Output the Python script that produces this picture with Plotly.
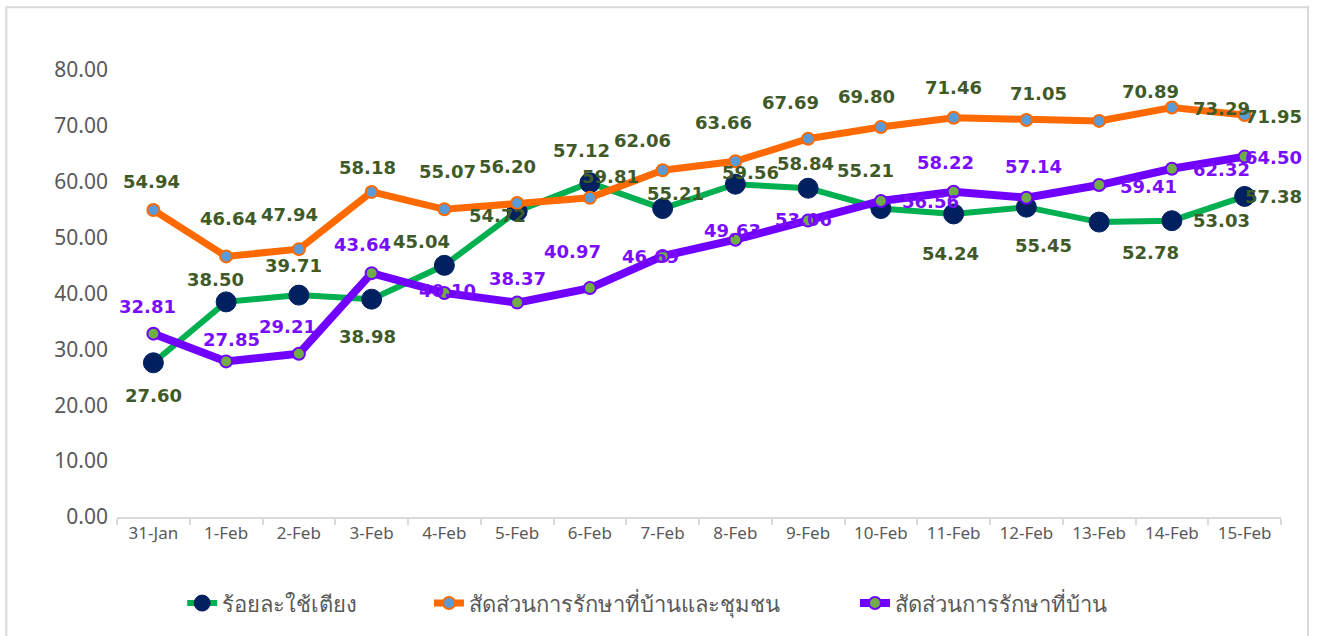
import plotly.graph_objects as go

categories = ["31-Jan", "1-Feb", "2-Feb", "3-Feb", "4-Feb", "5-Feb", "6-Feb", "7-Feb",
              "8-Feb", "9-Feb", "10-Feb", "11-Feb", "12-Feb", "13-Feb", "14-Feb", "15-Feb"]

bed_use = [27.60, 38.50, 39.71, 38.98, 45.04, 54.72, 59.81, 55.21,
           59.56, 58.84, 55.21, 54.24, 55.45, 52.78, 53.03, 57.38]
home_community = [54.94, 46.64, 47.94, 58.18, 55.07, 56.20, 57.12, 62.06,
                  63.66, 67.69, 69.80, 71.46, 71.05, 70.89, 73.29, 71.95]
home_only = [32.81, 27.85, 29.21, 43.64, 40.10, 38.37, 40.97, 46.69,
             49.63, 53.06, 56.56, 58.22, 57.14, 59.41, 62.32, 64.50]

names = ["ร้อยละใช้เตียง", "สัดส่วนการรักษาที่บ้านและชุมชน", "สัดส่วนการรักษาที่บ้าน"]

# label offsets in screen pixels (dx right, dy down) - styling only
off_green = [(0, 33), (-11, -22), (-5, -30), (-4, 37), (-23, -24), (-20, 4), (21, -6), (13, -15),
             (15, -12), (-3, -25), (-15, -38), (-3, 40), (17, 38), (51, 30), (50, 0), (29, 0)]
off_orange = [(-2, -29), (2, -38), (-9, -35), (-4, -24), (3, -38), (-10, -36), (-8, -47), (-20, -30),
              (-12, -39), (-18, -36), (-14, -30), (0, -30), (12, -27), (51, -29), (50, 1), (29, 2)]
off_purple = [(-6, -27), (5, -22), (-11, -27), (-9, -29), (3, -2), (0, -24), (-17, -37), (-12, 0),
              (-3, -9), (-5, -1), (50, 1), (-8, -29), (7, -31), (49, 1), (50, 1), (29, 1)]

GREEN_TXT = "#3f5a28"
PURPLE_TXT = "#7a0cff"

fig = go.Figure()
fig.add_trace(go.Scatter(
    x=categories, y=bed_use, name=names[0], mode="lines+markers", legend="legend",
    line=dict(color="#00b050", width=6),
    marker=dict(color="#002060", size=20, line=dict(color="#002060", width=1)),
))
fig.add_trace(go.Scatter(
    x=categories, y=home_community, name=names[1], mode="lines+markers", legend="legend2",
    line=dict(color="#ff6a00", width=7),
    marker=dict(color="#5b9bd5", size=12, line=dict(color="#ff6a00", width=2)),
))
fig.add_trace(go.Scatter(
    x=categories, y=home_only, name=names[2], mode="lines+markers", legend="legend3",
    line=dict(color="#7000ff", width=8),
    marker=dict(color="#70ad47", size=12, line=dict(color="#7000ff", width=2)),
))

annotations = []
for vals, offs, col in [(bed_use, off_green, GREEN_TXT),
                        (home_community, off_orange, GREEN_TXT),
                        (home_only, off_purple, PURPLE_TXT)]:
    for c, v, (dx, dy) in zip(categories, vals, offs):
        annotations.append(dict(
            x=c, y=v, xref="x", yref="y", text=f"{v:.2f}", showarrow=False,
            xanchor="center", yanchor="middle", xshift=dx, yshift=-dy,
            font=dict(family="DejaVu Sans", size=18, color=col, weight="bold"),
        ))

legend_font = dict(family="Noto Sans, DejaVu Sans, sans-serif", size=22, color="#595959")
def leg(xpos):
    return dict(orientation="h", x=xpos, xanchor="left", y=-0.193, yanchor="middle",
                font=legend_font, bgcolor="rgba(0,0,0,0)")

fig.update_layout(
    width=1318, height=636,
    margin=dict(l=117, r=37, t=70, b=117),
    paper_bgcolor="white", plot_bgcolor="white",
    showlegend=True,
    legend=leg(0.0560), legend2=leg(0.2680), legend3=leg(0.6340),
    annotations=annotations,
    shapes=[dict(type="rect", xref="paper", yref="paper", x0=-0.0951, x1=1.0232,
                 y0=-0.28, y1=1.1403, line=dict(color="#d9d9d9", width=2), layer="below")],
)
fig.update_xaxes(
    type="category", range=[-0.5, 15.5], showgrid=False,
    showline=True, linecolor="#d9d9d9", linewidth=2,
    ticks="outside", tickson="boundaries", ticklen=6, tickcolor="#d9d9d9", tickwidth=2,
    tickfont=dict(family="Noto Sans, sans-serif", size=17, color="#595959"),
)
fig.update_yaxes(
    range=[0, 80], dtick=10, tickformat=".2f", showgrid=False, zeroline=False,
    showline=False, ticks="", ticklabelstandoff=8,
    tickfont=dict(family="Noto Sans, sans-serif", size=21, color="#595959"),
)

fig.write_html("out.html", config={"displayModeBar": False},
               post_script="document.body.style.margin='0';document.body.style.overflow='hidden';")
